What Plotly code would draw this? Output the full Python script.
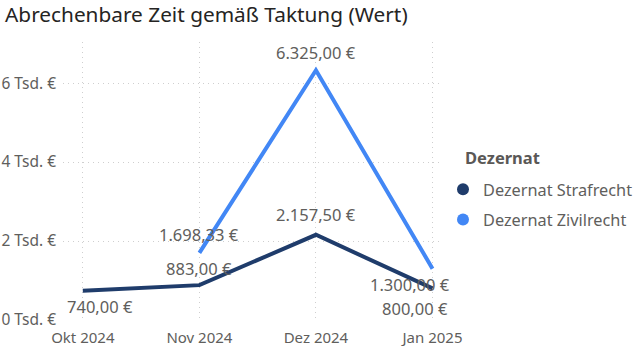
import plotly.graph_objects as go

months = ["Okt 2024", "Nov 2024", "Dez 2024", "Jan 2025"]
straf = [740.00, 883.00, 2157.50, 800.00]
zivil_months = ["Nov 2024", "Dez 2024", "Jan 2025"]
zivil = [1698.33, 6325.00, 1300.00]
series_names = ["Dezernat Strafrecht", "Dezernat Zivilrecht"]
legend_title = "Dezernat"
tick_vals = [0, 2000, 4000, 6000]
tick_text = ["0 Tsd. €", "2 Tsd. €", "4 Tsd. €", "6 Tsd. €"]

c_straf = "#1F3C6B"
c_zivil = "#4287F5"
font_fam = "Segoe UI, Noto Sans, Open Sans, sans-serif"
label_col = "#605E5C"


def fmt(v):
    s = f"{v:,.2f}"
    s = s.replace(",", "X").replace(".", ",").replace("X", ".")
    return s + " €"


fig = go.Figure()
fig.add_trace(go.Scatter(x=months, y=straf, mode="lines", line=dict(color=c_straf, width=4),
                         showlegend=False, hoverinfo="skip"))
fig.add_trace(go.Scatter(x=zivil_months, y=zivil, mode="lines", line=dict(color=c_zivil, width=4),
                         showlegend=False, hoverinfo="skip"))
for name, col in zip(series_names, [c_straf, c_zivil]):
    fig.add_trace(go.Scatter(x=[None], y=[None], mode="markers", name=name, legendgroup=name,
                             marker=dict(color=col, size=13, symbol="circle")))

straf_shift = [(17, -16), (0, 17), (0, 20), (-18, -20)]
zivil_shift = [(0, 18), (0, 18), (-23, -16)]
for xs, ys, shifts in [(months, straf, straf_shift), (zivil_months, zivil, zivil_shift)]:
    for xv, yv, (dx, dy) in zip(xs, ys, shifts):
        fig.add_annotation(x=xv, y=yv, text=fmt(yv), showarrow=False, xshift=dx, yshift=dy,
                           font=dict(size=16.5, color=label_col, family=font_fam))

fig.add_annotation(xref="paper", yref="paper", x=1.0526, y=0.583, xanchor="left", yanchor="middle",
                   text=f"<b>{legend_title}</b>", showarrow=False,
                   font=dict(size=16.5, color="#5A5856", family=font_fam))

fig.update_layout(
    width=636, height=346,
    margin=dict(l=63, r=193, t=42, b=26, autoexpand=False),
    paper_bgcolor="white", plot_bgcolor="white",
    title=dict(text="Abrechenbare Zeit gemäß Taktung (Wert)", x=0.008, xanchor="left",
               y=0.958, yanchor="middle",
               font=dict(size=20.8, color="#252423", family="Segoe UI Semibold, Noto Sans, sans-serif")),
    legend=dict(x=1.0, xanchor="left", y=0.532, yanchor="top",
                font=dict(size=16.3, color="#605E5C", family=font_fam),
                tracegroupgap=6, itemsizing="constant"),
    font=dict(family=font_fam),
)
fig.update_xaxes(type="category", categoryorder="array", categoryarray=months,
                 range=[-0.17, 3.09], showgrid=True, gridcolor="#CFCFCF", griddash="1px,4px", gridwidth=1,
                 showline=False, zeroline=False, ticks="", ticklabelstandoff=7,
                 tickfont=dict(size=15, color=label_col))
fig.update_yaxes(range=[0, 7040], tickvals=tick_vals, ticktext=tick_text,
                 showgrid=True, gridcolor="#CFCFCF", griddash="1px,4px", gridwidth=1,
                 zeroline=False, showline=False, ticks="", ticklabelstandoff=6,
                 tickfont=dict(size=15.5, color=label_col))

fig.write_html("out.html")
